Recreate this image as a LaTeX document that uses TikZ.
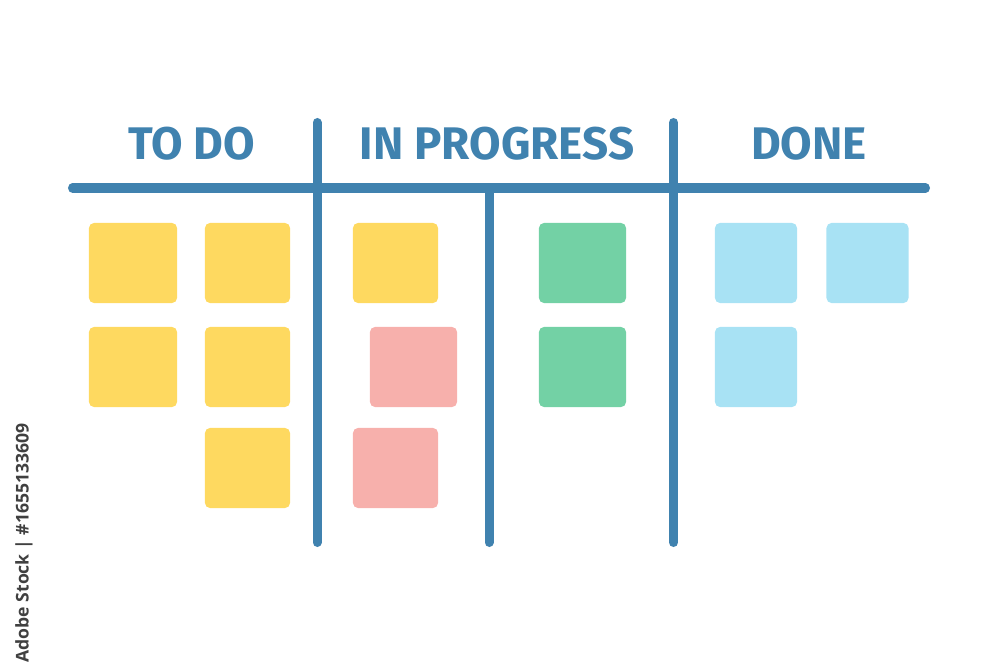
\documentclass[tikz,border=0pt]{standalone}
\usepackage{fontspec}
\setmainfont{Fira Sans}
\newfontfamily\idfont{Open Sans}
\definecolor{boardblue}{RGB}{64,130,175}
\definecolor{noteyellow}{RGB}{254,217,96}
\definecolor{notepink}{RGB}{247,176,172}
\definecolor{notegreen}{RGB}{115,209,165}
\definecolor{noteblue}{RGB}{168,226,244}
\tikzset{
  note/.style={rectangle, rounded corners=0.05cm, inner sep=0pt,
    minimum width=0.85cm, minimum height=0.80cm},
  boardline/.style={boardblue, line width=0.09cm, line cap=round},
  title/.style={boardblue, anchor=base, font=\fontsize{13}{15}\selectfont\bfseries}
}
\begin{document}
\begin{tikzpicture}[x=0.01cm, y=-0.01cm]
  \useasboundingbox (0,0) rectangle (1000,667);
  % Board lines
  \draw[boardline] (72.5,188) -- (925.5,188);
  \draw[boardline] (317,122.5) -- (317,542.5);
  \draw[boardline] (489,188) -- (489,542.5);
  \draw[boardline] (673.5,122.5) -- (673.5,542.5);

  % Column titles
  \node[title] (todo) at (191.5,160) {TO DO};
  \node[title] (progress) at (497,160) {IN PROGRESS};
  \node[title] (done) at (809,160) {DONE};

  % To do
  \node[note, fill=noteyellow, minimum width=0.88cm] (todoA) at (133,263) {};
  \node[note, fill=noteyellow] (todoB) at (247.5,263) {};
  \node[note, fill=noteyellow, minimum width=0.88cm] (todoC) at (133,367) {};
  \node[note, fill=noteyellow] (todoD) at (247.5,367) {};
  \node[note, fill=noteyellow] (todoE) at (247.5,468) {};

  % In progress
  \node[note, fill=noteyellow] (progA) at (395.5,263) {};
  \node[note, fill=notepink, minimum width=0.87cm] (progB) at (413.5,367) {};
  \node[note, fill=notepink] (progC) at (395.5,468) {};
  \node[note, fill=notegreen, minimum width=0.87cm] (progD) at (582.5,263) {};
  \node[note, fill=notegreen, minimum width=0.87cm] (progE) at (582.5,367) {};

  % Done
  \node[note, fill=noteblue, minimum width=0.82cm] (doneA) at (756,263) {};
  \node[note, fill=noteblue, minimum width=0.82cm] (doneB) at (867.5,263) {};
  \node[note, fill=noteblue, minimum width=0.82cm] (doneC) at (756,367) {};

  % Stock id
  \node[rotate=90, text=black!75, font=\idfont\bfseries\fontsize{5}{6}\selectfont] (stockid) at (24,543) {Adobe Stock | \#1655133609};
\end{tikzpicture}
\end{document}
